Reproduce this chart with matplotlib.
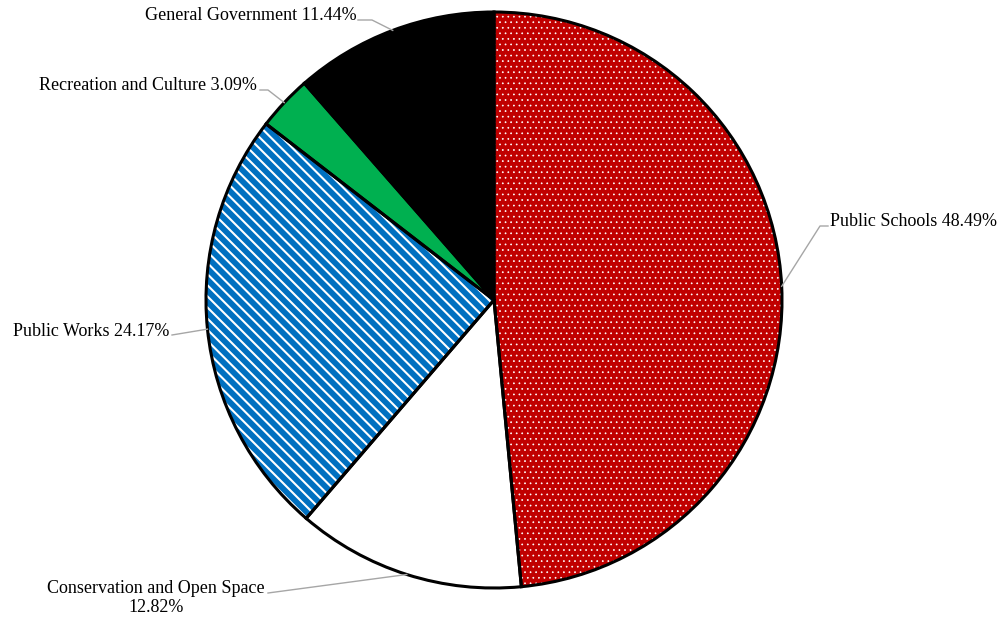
import numpy as np
import matplotlib
matplotlib.use("Agg")
import matplotlib.pyplot as plt

# data
labels = ["Public Schools", "Conservation and Open Space", "Public Works",
          "Recreation and Culture", "General Government"]
shares = [48.49, 12.82, 24.17, 3.09, 11.44]
label_texts = ["Public Schools 48.49%", "Conservation and Open Space\n12.82%",
               "Public Works 24.17%", "Recreation and Culture 3.09%",
               "General Government 11.44%"]

colors = ["#C00000", "#FFFFFF", "#0070C0", "#00B050", "#000000"]
hatches = ["...", None, "\\\\\\", None, None]
hatch_lw = [0.5, 1.0, 1.5, 1.0, 1.0]

W, H = 1005, 623
CX, CY, R = 494, 300, 288   # pie centre / radius in pixels


def py(y):
    # pixel row (from top) -> data y
    return H - y


plt.rcParams['font.family'] = ['Liberation Serif', 'DejaVu Serif']
plt.rcParams['hatch.linewidth'] = 1.5

fig = plt.figure(figsize=(W / 100, H / 100), dpi=100)
ax = fig.add_axes([0, 0, 1, 1])

# filled wedges with white hatching
wedges, _ = ax.pie(shares, colors=colors, startangle=90, counterclock=False,
                   center=(CX, py(CY)), radius=R, frame=True,
                   wedgeprops=dict(edgecolor="white", linewidth=0))
for w, h, lw in zip(wedges, hatches, hatch_lw):
    if h:
        w.set_hatch(h)
        if hasattr(w, "set_hatch_linewidth"):
            w.set_hatch_linewidth(lw)

# black outlines on top
ax.pie(shares, colors=colors, startangle=90, counterclock=False,
       center=(CX, py(CY)), radius=R, frame=True,
       wedgeprops=dict(fill=False, edgecolor="black", linewidth=2.2))

# leader line anchor on wedge edge (mid angle)
vals = np.array(shares)
cum = np.cumsum(vals) - vals / 2
mid = np.deg2rad(90 - cum / vals.sum() * 360)
ex = CX + R * np.cos(mid)
ey = py(CY) + R * np.sin(mid)

# label positions (pixels) and leader start points
text_pos = [(830, 221, "left"), (156, 598, "center"), (169, 331, "right"),
            (257, 86, "right"), (357, 16, "right")]
leader_start = [[(828, 226), (820, 226)], [(268, 593)], [(172, 335)],
                [(260, 90), (268, 90)], [(358, 20), (372, 20)]]

for i, txt in enumerate(label_texts):
    x, y, ha = text_pos[i]
    ax.text(x, py(y), txt, ha=ha, va="center", fontsize=13,
            multialignment="center", linespacing=1.1, color="#000000")
    pts = leader_start[i]
    lx = [p[0] for p in pts] + [ex[i]]
    ly = [py(p[1]) for p in pts] + [ey[i]]
    ax.plot(lx, ly, color="#A6A6A6", linewidth=1.0)

ax.set_xlim(0, W)
ax.set_ylim(0, H)
ax.set_aspect("equal")
ax.axis("off")

plt.savefig("out.png", dpi=100, facecolor="white")
